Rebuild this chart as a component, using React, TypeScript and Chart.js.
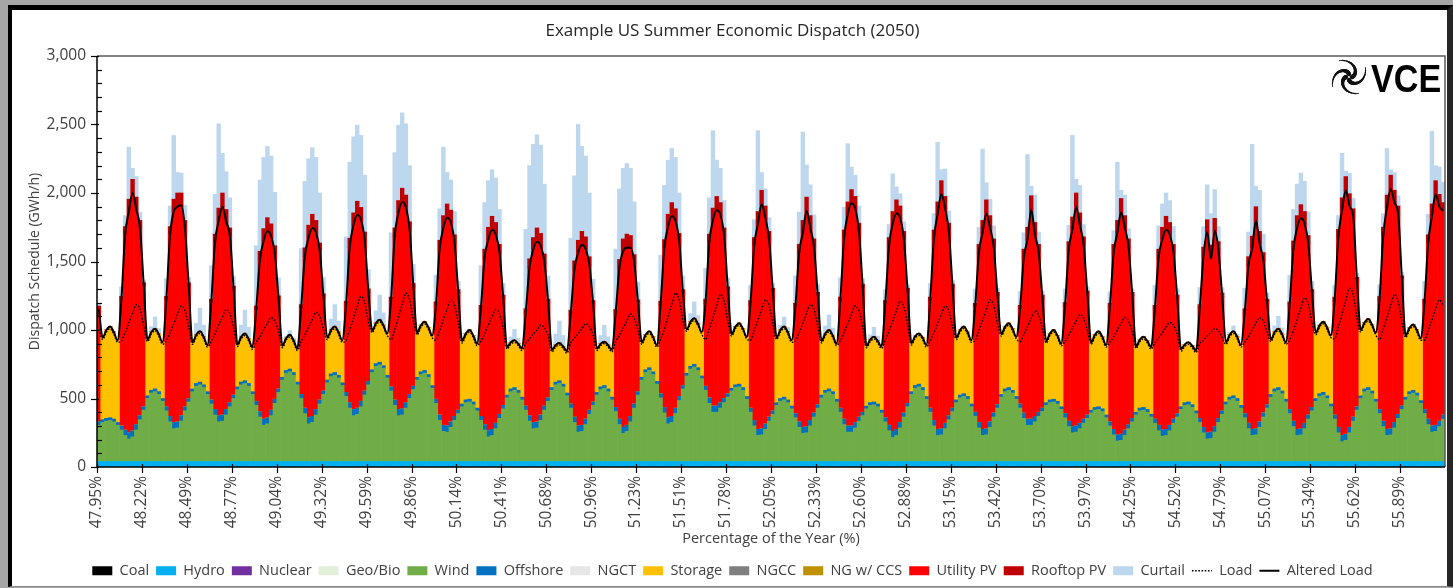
import React, { useEffect, useRef } from 'react';
import { Chart, registerables } from 'chart.js';

Chart.register(...registerables);

// x axis: one label per day (24 h = 0.274 % of the year), data in 2-hour bins
const dayLabels = [
  '47.95%', '48.22%', '48.49%', '48.77%', '49.04%', '49.32%', '49.59%', '49.86%', '50.14%', '50.41%',
  '50.68%', '50.96%', '51.23%', '51.51%', '51.78%', '52.05%', '52.33%', '52.60%', '52.88%', '53.15%',
  '53.42%', '53.70%', '53.97%', '54.25%', '54.52%', '54.79%', '55.07%', '55.34%', '55.62%', '55.89%',
];
const binsPerDay = 12;
const yMinorStep = 100;

const coal: number[] = [];
const nuclear: number[] = [];
const geoBio: number[] = [];
const ngct: number[] = [];
const ngcc: number[] = [];
const ngCcs: number[] = [];

const hydro = [
  40,40,40,40,40,40,40,40,40,40,40,40, 40,40,40,40,40,40,40,40,40,40,40,40,
  40,40,40,40,40,40,40,40,40,40,40,40, 40,40,40,40,40,40,40,40,40,40,40,40,
  40,40,40,40,40,40,40,40,40,40,40,40, 40,40,40,40,40,40,40,40,40,40,40,40,
  40,40,40,40,40,40,40,40,40,40,40,40, 40,40,40,40,40,40,40,40,40,40,40,40,
  40,40,40,40,40,40,40,40,40,40,40,40, 40,40,40,40,40,40,40,40,40,40,40,40,
  40,40,40,40,40,40,40,40,40,40,40,40, 40,40,40,40,40,40,40,40,40,40,40,40,
  40,40,40,40,40,40,40,40,40,40,40,40, 40,40,40,40,40,40,40,40,40,40,40,40,
  40,40,40,40,40,40,40,40,40,40,40,40, 40,40,40,40,40,40,40,40,40,40,40,40,
  40,40,40,40,40,40,40,40,40,40,40,40, 40,40,40,40,40,40,40,40,40,40,40,40,
  40,40,40,40,40,40,40,40,40,40,40,40, 40,40,40,40,40,40,40,40,40,40,40,40,
  40,40,40,40,40,40,40,40,40,40,40,40, 40,40,40,40,40,40,40,40,40,40,40,40,
  40,40,40,40,40,40,40,40,40,40,40,40, 40,40,40,40,40,40,40,40,40,40,40,40,
  40,40,40,40,40,40,40,40,40,40,40,40, 40,40,40,40,40,40,40,40,40,40,40,40,
  40,40,40,40,40,40,40,40,40,40,40,40, 40,40,40,40,40,40,40,40,40,40,40,40,
  40,40,40,40,40,40,40,40,40,40,40,40, 40,40,40,40,40,40,40,40,40,40,40,40,
];

const wind = [
  265,285,295,300,290,265,230,190,165,180,230,305,
  375,460,500,510,490,440,370,290,240,245,295,370,
  435,510,550,560,540,490,420,340,290,295,340,400,
  460,525,560,570,550,490,410,325,265,275,335,425,
  505,595,645,655,630,560,460,350,275,285,340,420,
  490,575,620,630,610,555,475,390,335,345,400,485,
  560,650,695,705,680,610,515,410,335,340,390,460,
  525,595,635,645,615,535,425,300,220,215,250,300,
  350,400,430,435,415,370,300,230,180,190,240,315,
  385,465,510,520,500,450,375,295,240,245,300,375,
  440,520,560,570,545,480,390,285,215,220,270,345,
  410,485,525,535,510,450,365,270,205,220,290,390,
  485,595,650,665,635,565,465,355,275,285,350,445,
  530,625,675,690,665,605,520,425,360,360,390,430,
  470,515,540,545,520,455,360,260,190,195,235,295,
  345,410,440,450,430,385,320,250,205,210,260,325,
  390,465,500,510,490,435,360,270,215,215,245,295,
  335,385,410,415,400,355,290,225,175,190,245,325,
  400,490,535,545,520,455,360,260,190,195,240,305,
  365,430,465,475,455,400,330,245,190,195,250,325,
  390,470,510,520,500,455,390,315,265,265,290,330,
  365,410,430,435,420,380,320,255,210,215,240,280,
  315,355,375,380,365,320,260,195,150,155,190,240,
  290,340,370,375,360,325,280,225,185,190,225,280,
  325,380,410,415,395,350,285,210,165,170,215,285,
  345,415,450,460,440,390,320,240,190,195,250,325,
  390,470,510,520,495,435,350,255,190,195,240,310,
  370,440,475,485,460,400,310,210,145,155,210,295,
  375,460,510,520,495,435,350,255,190,195,245,315,
  380,450,490,500,480,425,350,270,215,220,255,310,
];

const offshore = [
  25,20,20,20,20,20,30,40,45,45,40,30, 25,20,20,20,20,20,30,40,45,45,40,30,
  25,20,20,20,20,20,30,40,45,45,40,30, 25,20,20,20,20,20,30,40,45,45,40,30,
  25,20,20,20,20,20,30,40,45,45,40,30, 25,20,20,20,20,20,30,40,45,45,40,30,
  25,20,20,20,20,20,30,40,45,45,40,30, 25,20,20,20,20,20,30,40,45,45,40,30,
  25,20,20,20,20,20,30,40,45,45,40,30, 25,20,20,20,20,20,30,40,45,45,40,30,
  25,20,20,20,20,20,30,40,45,45,40,30, 25,20,20,20,20,20,30,40,45,45,40,30,
  25,20,20,20,20,20,30,40,45,45,40,30, 25,20,20,20,20,20,30,40,45,45,40,30,
  25,20,20,20,20,20,30,40,45,45,40,30, 25,20,20,20,20,20,30,40,45,45,40,30,
  25,20,20,20,20,20,30,40,45,45,40,30, 25,20,20,20,20,20,30,40,45,45,40,30,
  25,20,20,20,20,20,30,40,45,45,40,30, 25,20,20,20,20,20,30,40,45,45,40,30,
  25,20,20,20,20,20,30,40,45,45,40,30, 25,20,20,20,20,20,30,40,45,45,40,30,
  25,20,20,20,20,20,30,40,45,45,40,30, 25,20,20,20,20,20,30,40,45,45,40,30,
  25,20,20,20,20,20,30,40,45,45,40,30, 25,20,20,20,20,20,30,40,45,45,40,30,
  25,20,20,20,20,20,30,40,45,45,40,30, 25,20,20,20,20,20,30,40,45,45,40,30,
  25,20,20,20,20,20,30,40,45,45,40,30, 25,20,20,20,20,20,30,40,45,45,40,30,
];

const storage = [
  0,600,645,665,635,600,0,0,0,0,0,0,
  0,410,425,440,420,410,0,0,0,0,0,0,
  0,340,355,370,350,340,0,0,0,0,0,0,
  0,310,330,345,325,325,0,0,0,0,0,0,
  0,230,235,250,235,245,0,0,0,0,0,0,
  0,310,320,335,315,310,0,0,0,0,0,0,
  0,285,295,310,295,305,0,0,0,0,0,0,
  0,325,340,355,345,365,0,0,0,0,0,0,
  0,460,485,505,485,470,0,0,0,0,0,0,
  0,350,340,345,340,355,0,0,0,0,0,0,
  0,275,270,275,275,305,0,0,0,0,0,0,
  0,320,315,320,320,345,0,0,0,0,0,0,
  0,255,255,265,255,265,0,0,0,0,0,0,
  0,320,325,335,320,320,0,0,0,0,0,0,
  0,395,425,445,430,435,0,0,0,0,0,0,
  0,475,500,515,495,480,0,0,0,0,0,0,
  0,395,415,430,410,405,0,0,0,0,0,0,
  0,440,460,475,460,465,0,0,0,0,0,0,
  0,355,360,370,365,375,0,0,0,0,0,0,
  0,455,475,490,470,465,0,0,0,0,0,0,
  0,440,455,470,450,435,0,0,0,0,0,0,
  0,450,485,505,480,460,0,0,0,0,0,0,
  0,495,530,550,525,510,0,0,0,0,0,0,
  0,480,500,515,500,490,0,0,0,0,0,0,
  0,420,425,435,430,440,0,0,0,0,0,0,
  0,435,455,470,450,440,0,0,0,0,0,0,
  0,400,415,430,415,415,0,0,0,0,0,0,
  0,480,500,515,500,500,0,0,0,0,0,0,
  0,480,485,500,485,485,0,0,0,0,0,0,
  0,450,465,480,460,455,0,0,0,0,0,0,
];

const utilityPV = [
  820,0,0,0,0,0,915,1420,1615,1735,1570,1365,
  880,0,0,0,0,0,775,1320,1540,1570,1535,1300,
  820,0,0,0,0,0,705,1215,1425,1520,1370,1215,
  770,0,0,0,0,0,665,1105,1300,1360,1270,1060,
  655,0,0,0,0,0,625,1105,1315,1375,1290,1085,
  685,0,0,0,0,0,635,1135,1345,1410,1325,1100,
  650,0,0,0,0,0,625,1190,1435,1510,1425,1200,
  725,0,0,0,0,0,680,1210,1440,1520,1455,1265,
  855,0,0,0,0,0,780,1215,1395,1455,1375,1180,
  780,0,0,0,0,0,680,1080,1260,1315,1235,1050,
  695,0,0,0,0,0,655,1075,1265,1315,1240,1060,
  715,0,0,0,0,0,685,1100,1285,1295,1230,1030,
  645,0,0,0,0,0,645,1160,1395,1460,1365,1130,
  675,0,0,0,0,0,605,1130,1355,1430,1370,1185,
  755,0,0,0,0,0,755,1270,1500,1640,1500,1295,
  870,0,0,0,0,0,775,1230,1420,1575,1405,1210,
  795,0,0,0,0,0,780,1315,1545,1625,1560,1355,
  910,0,0,0,0,0,825,1305,1515,1575,1490,1265,
  815,0,0,0,0,0,780,1325,1570,1710,1565,1345,
  880,0,0,0,0,0,765,1235,1435,1570,1415,1210,
  795,0,0,0,0,0,690,1130,1310,1530,1325,1165,
  800,0,0,0,0,0,780,1245,1440,1600,1445,1270,
  880,0,0,0,0,0,835,1285,1475,1620,1475,1295,
  895,0,0,0,0,0,800,1220,1390,1455,1390,1215,
  840,0,0,0,0,0,800,1250,1465,1265,1430,1230,
  835,0,0,0,0,0,735,1150,1320,1520,1300,1110,
  745,0,0,0,0,0,755,1250,1470,1535,1455,1250,
  835,0,0,0,0,0,830,1380,1645,1780,1615,1460,
  920,0,0,0,0,0,795,1350,1620,1750,1605,1460,
  925,0,0,0,0,0,775,1280,1530,1685,1565,1490,
];

const rooftopPV = [
  25,0,0,0,0,0,30,65,90,100,90,60, 25,0,0,0,0,0,30,65,90,100,90,60,
  25,0,0,0,0,0,30,65,90,100,90,60, 25,0,0,0,0,0,30,65,90,100,90,60,
  25,0,0,0,0,0,30,65,90,100,90,60, 25,0,0,0,0,0,30,65,90,100,90,60,
  25,0,0,0,0,0,30,65,90,100,90,60, 25,0,0,0,0,0,30,65,90,100,90,60,
  25,0,0,0,0,0,30,65,90,100,90,60, 25,0,0,0,0,0,30,65,90,100,90,60,
  25,0,0,0,0,0,30,65,90,100,90,60, 25,0,0,0,0,0,30,65,90,100,90,60,
  25,0,0,0,0,0,30,65,90,100,90,60, 25,0,0,0,0,0,30,65,90,100,90,60,
  25,0,0,0,0,0,30,65,90,100,90,60, 25,0,0,0,0,0,30,65,90,100,90,60,
  25,0,0,0,0,0,30,65,90,100,90,60, 25,0,0,0,0,0,30,65,90,100,90,60,
  25,0,0,0,0,0,30,65,90,100,90,60, 25,0,0,0,0,0,30,65,90,100,90,60,
  25,0,0,0,0,0,30,65,90,100,90,60, 25,0,0,0,0,0,30,65,90,100,90,60,
  25,0,0,0,0,0,30,65,90,100,90,60, 25,0,0,0,0,0,30,65,90,100,90,60,
  25,0,0,0,0,0,30,65,90,100,90,60, 25,0,0,0,0,0,30,65,90,100,90,60,
  25,0,0,0,0,0,30,65,90,100,90,60, 25,0,0,0,0,0,30,65,90,100,90,60,
  25,0,0,0,0,0,30,65,90,100,90,60, 25,0,0,0,0,0,30,65,90,100,90,60,
];

const curtail = [
  15,0,0,0,0,0,70,80,380,80,150,60,
  20,0,40,85,40,0,130,150,465,150,145,110,
  40,0,85,170,85,0,245,290,615,290,275,220,
  70,0,85,170,85,0,440,520,520,520,495,390,
  130,0,15,30,15,0,410,485,485,485,460,365,
  120,0,80,160,80,0,470,555,555,555,525,415,
  140,0,90,180,90,0,470,550,550,550,520,410,
  140,0,0,0,0,0,195,230,500,230,220,170,
  60,0,0,0,0,0,290,340,340,340,325,255,
  85,0,40,80,40,0,580,680,680,680,645,510,
  170,0,80,160,80,0,525,620,845,620,590,465,
  155,0,60,120,60,0,440,515,515,515,490,385,
  130,0,0,0,0,0,335,395,395,395,375,295,
  100,0,60,120,60,0,225,265,565,265,250,200,
  65,0,0,0,0,0,110,130,590,130,125,100,
  35,0,35,70,35,0,200,235,645,235,225,175,
  60,0,55,110,55,0,140,165,425,165,155,125,
  40,0,35,70,35,0,80,95,275,95,90,70,
  25,0,0,0,0,0,100,120,435,80,200,90,
  30,0,0,0,0,0,105,125,520,125,120,95,
  30,0,0,0,0,0,100,120,530,70,200,90,
  30,0,0,0,0,0,100,120,595,100,200,90,
  30,0,0,0,0,0,85,100,425,60,150,75,
  25,0,0,0,0,0,145,170,170,170,160,130,
  45,0,0,0,0,0,125,150,255,230,210,110,
  40,0,20,40,20,0,150,180,670,150,300,135,
  45,0,45,90,45,0,195,230,230,230,220,170,
  60,0,0,0,0,0,85,100,325,40,150,75,
  25,0,0,0,0,0,85,100,340,40,130,75,
  25,0,0,0,0,0,130,150,530,110,200,150,
];

const load = [
  1005,930,985,1010,970,910,920,980,1050,1120,1185,1150,
  1025,915,970,995,955,895,920,980,1045,1115,1175,1140,
  1020,895,950,975,935,875,915,970,1035,1095,1150,1120,
  1010,880,935,960,920,860,910,950,1000,1050,1090,1065,
  985,870,925,950,910,850,915,965,1020,1075,1130,1100,
  1000,930,985,1010,970,910,925,1000,1085,1170,1245,1200,
  1055,980,1035,1060,1020,960,930,1005,1095,1185,1270,1220,
  1065,965,1020,1045,1005,945,925,995,1070,1150,1220,1180,
  1045,905,960,985,945,885,915,970,1035,1095,1150,1120,
  1010,860,895,910,885,850,905,935,970,1000,1035,1015,
  955,840,875,890,865,830,905,940,975,1010,1045,1025,
  960,850,885,900,875,840,915,960,1015,1065,1115,1085,
  995,895,950,975,935,875,930,1005,1095,1185,1270,1220,
  1065,990,1045,1070,1030,970,930,1005,1090,1180,1260,1210,
  1060,955,1010,1035,995,935,925,995,1070,1150,1220,1180,
  1045,930,985,1010,970,910,920,980,1050,1120,1185,1150,
  1025,905,960,985,945,885,920,980,1045,1115,1175,1140,
  1020,870,915,935,905,865,925,990,1065,1140,1210,1170,
  1040,890,940,960,930,875,920,980,1045,1115,1175,1140,
  1020,930,985,1010,970,910,925,995,1070,1150,1220,1180,
  1045,955,1010,1035,995,935,915,965,1025,1085,1140,1110,
  1005,905,960,985,945,885,915,960,1015,1065,1115,1085,
  995,895,950,975,935,875,910,950,1000,1050,1090,1065,
  985,865,915,935,905,860,905,940,980,1020,1055,1035,
  965,845,880,895,870,835,900,925,955,985,1010,995,
  945,895,950,975,935,875,910,950,1000,1050,1090,1065,
  985,915,970,995,955,895,925,995,1080,1160,1235,1190,
  1050,965,1020,1045,1005,945,935,1020,1115,1215,1305,1255,
  1085,985,1040,1065,1025,965,930,1005,1090,1180,1260,1210,
  1060,945,1000,1025,985,925,925,995,1070,1150,1220,1180,
];

const alteredLoad = [
  1150,945,1000,1025,985,925,1215,1690,1865,2000,1880,1740,
  1320,930,985,1010,970,910,1215,1690,1865,1900,1910,1740,
  1320,910,965,990,950,890,1195,1635,1800,1900,1790,1685,
  1295,895,950,975,935,875,1145,1510,1650,1720,1685,1555,
  1225,885,940,965,925,865,1155,1535,1675,1745,1710,1575,
  1240,945,1000,1025,985,925,1180,1605,1765,1840,1805,1655,
  1275,995,1050,1075,1035,975,1210,1680,1855,1935,1895,1730,
  1315,980,1035,1060,1020,960,1175,1590,1745,1820,1785,1635,
  1270,920,975,1000,960,900,1150,1525,1660,1730,1695,1565,
  1230,875,910,925,900,865,1125,1455,1585,1645,1615,1495,
  1200,855,890,905,880,845,1115,1440,1565,1620,1590,1475,
  1190,865,900,915,890,855,1120,1450,1575,1600,1600,1490,
  1195,910,965,990,950,890,1180,1595,1755,1830,1795,1645,
  1270,1005,1060,1085,1045,985,1195,1635,1800,1875,1840,1685,
  1290,970,1025,1050,1010,950,1185,1610,1775,1920,1815,1660,
  1280,945,1000,1025,985,925,1165,1560,1710,1870,1745,1605,
  1250,920,975,1000,960,900,1210,1665,1845,1925,1885,1720,
  1310,885,930,950,920,880,1185,1610,1775,1850,1815,1660,
  1280,905,955,975,945,890,1210,1665,1845,1990,1885,1720,
  1310,945,1000,1025,985,925,1165,1560,1710,1850,1745,1605,
  1250,970,1025,1050,1010,950,1150,1525,1660,1880,1695,1565,
  1230,920,975,1000,960,900,1170,1580,1735,1900,1765,1620,
  1260,910,965,990,950,890,1165,1560,1710,1860,1745,1605,
  1250,880,930,950,920,875,1150,1525,1660,1730,1695,1565,
  1230,860,895,910,885,850,1155,1540,1715,1520,1725,1585,
  1245,910,965,990,950,890,1125,1470,1595,1800,1630,1505,
  1200,930,985,1010,970,910,1175,1585,1745,1815,1775,1630,
  1270,980,1035,1060,1020,960,1210,1670,1875,2020,1905,1825,
  1360,1000,1055,1080,1040,980,1215,1685,1895,2030,1930,1845,
  1370,960,1015,1040,1000,940,1195,1630,1830,1990,1900,1870,
];

const decoPlugin = {
  id: 'deco',
  afterDraw(chart: any) {
    const { ctx, chartArea: ca, scales } = chart;
    const x = scales.x;
    const y = scales.y;
    ctx.save();
    // plot frame (top & right)
    ctx.strokeStyle = '#595959';
    ctx.lineWidth = 1.5;
    ctx.beginPath();
    ctx.moveTo(ca.left, ca.top);
    ctx.lineTo(ca.right, ca.top);
    ctx.lineTo(ca.right, ca.bottom);
    ctx.stroke();
    // axes
    ctx.strokeStyle = '#000';
    ctx.lineWidth = 1.5;
    ctx.beginPath();
    ctx.moveTo(ca.left, ca.top);
    ctx.lineTo(ca.left, ca.bottom);
    ctx.lineTo(ca.right, ca.bottom);
    ctx.stroke();
    // y ticks (major every 500 outward, minor every 100 inward)
    ctx.lineWidth = 1.2;
    for (let v = 0; v <= y.max; v += yMinorStep) {
      const py = Math.round(y.getPixelForValue(v)) + 0.5;
      ctx.beginPath();
      if (v % 500 === 0) {
        ctx.moveTo(ca.left - 6, py);
        ctx.lineTo(ca.left + 2, py);
      } else {
        ctx.moveTo(ca.left, py);
        ctx.lineTo(ca.left + 5, py);
      }
      ctx.stroke();
    }
    // x ticks at day boundaries
    const half = (x.getPixelForValue(1) - x.getPixelForValue(0)) / 2;
    for (let d = 0; d < dayLabels.length; d++) {
      const px = Math.round(x.getPixelForValue(d * binsPerDay) - half) + 0.5;
      ctx.beginPath();
      ctx.moveTo(px, ca.bottom - 3);
      ctx.lineTo(px, ca.bottom + 6);
      ctx.stroke();
    }
    // VCE logo
    const cx = ca.right - 96;
    const cy = ca.top + 21;
    ctx.strokeStyle = '#111';
    ctx.lineCap = 'round';
    for (let k = 0; k < 4; k++) {
      const a0 = (k * Math.PI) / 2;
      const steps = 16;
      for (let s = 0; s < steps; s++) {
        const t0 = s / steps;
        const t1 = (s + 1) / steps;
        const r0 = 3 + 16 * t0;
        const r1 = 3 + 16 * t1;
        const th0 = a0 - 2.1 * t0;
        const th1 = a0 - 2.1 * t1;
        ctx.lineWidth = 3.8 * (1 - t0) + 0.6;
        ctx.beginPath();
        ctx.moveTo(cx + r0 * Math.cos(th0), cy + r0 * Math.sin(th0));
        ctx.lineTo(cx + r1 * Math.cos(th1), cy + r1 * Math.sin(th1));
        ctx.stroke();
      }
    }
    ctx.fillStyle = '#000';
    ctx.font = 'bold 39px "Liberation Sans", Arial, sans-serif';
    ctx.textBaseline = 'alphabetic';
    ctx.textAlign = 'left';
    ctx.translate(ca.right - 74, ca.top + 36);
    ctx.scale(0.875, 1);
    ctx.fillText('VCE', 0, 0);
    ctx.restore();
  },
};

export default function App() {
  const ref = useRef<HTMLCanvasElement>(null);

  useEffect(() => {
    if (!ref.current) return;
    Chart.defaults.font.family = '"Open Sans", sans-serif';
    const labels = dayLabels.flatMap((l) => [l, ...new Array(binsPerDay - 1).fill('')]);
    const bar = (label: string, data: number[], color: string) => ({
      type: 'bar' as const,
      label,
      data,
      backgroundColor: color,
      borderWidth: 0,
      barPercentage: 1,
      categoryPercentage: 1,
      stack: 'dispatch',
    });
    const chart = new Chart(ref.current, {
      type: 'bar',
      data: {
        labels,
        datasets: [
          bar('Coal', coal, '#000000'),
          bar('Hydro', hydro, '#00b0f0'),
          bar('Nuclear', nuclear, '#7030a0'),
          bar('Geo/Bio', geoBio, '#e2efda'),
          bar('Wind', wind, '#70ad47'),
          bar('Offshore', offshore, '#0070c0'),
          bar('NGCT', ngct, '#e7e6e6'),
          bar('Storage', storage, '#ffc000'),
          bar('NGCC', ngcc, '#7f7f7f'),
          bar('NG w/ CCS', ngCcs, '#bf9000'),
          bar('Utility PV', utilityPV, '#ff0000'),
          bar('Rooftop PV', rooftopPV, '#c00000'),
          bar('Curtail', curtail, '#bdd7ee'),
          {
            type: 'line' as const,
            label: 'Load',
            data: load,
            borderColor: '#000',
            backgroundColor: '#000',
            borderWidth: 1.4,
            borderDash: [1.6, 1.6],
            pointRadius: 0,
            fill: false,
            cubicInterpolationMode: 'monotone',
            order: -1,
            stack: 'load',
          } as any,
          {
            type: 'line' as const,
            label: 'Altered Load',
            data: alteredLoad,
            borderColor: '#000',
            backgroundColor: '#000',
            borderWidth: 2,
            pointRadius: 0,
            fill: false,
            cubicInterpolationMode: 'monotone',
            order: -2,
            stack: 'altered',
          } as any,
        ],
      },
      options: {
        responsive: false,
        animation: false,
        events: [],
        layout: { padding: { left: 20, right: 8, top: 0, bottom: 0 } },
        plugins: {
          title: {
            display: true,
            text: 'Example US Summer Economic Dispatch (2050)',
            color: '#262626',
            font: { size: 17, weight: 'normal' },
            padding: { top: 21, bottom: 14.6 },
          },
          legend: {
            position: 'bottom',
            labels: {
              usePointStyle: true,
              pointStyleWidth: 20,
              boxHeight: 9,
              padding: 7,
              color: '#404040',
              font: { size: 14.5 },
              sort: (a: any, b: any) => a.datasetIndex - b.datasetIndex,
              generateLabels: (ch: any) => {
                const items = (Chart.defaults.plugins.legend.labels as any).generateLabels(ch);
                return items.map((it: any) => {
                  const ds: any = ch.data.datasets[it.datasetIndex];
                  if (ds.type === 'line') {
                    return {
                      ...it,
                      pointStyle: 'line',
                      lineWidth: ds.borderWidth,
                      lineDash: ds.borderDash || [],
                      strokeStyle: '#000',
                      fillStyle: '#000',
                    };
                  }
                  return { ...it, pointStyle: 'rect', lineWidth: 0, fillStyle: ds.backgroundColor };
                });
              },
            },
          },
          tooltip: { enabled: false },
        },
        scales: {
          x: {
            type: 'category',
            stacked: true,
            offset: true,
            grid: { display: false, drawTicks: false },
            border: { display: false },
            ticks: {
              autoSkip: false,
              minRotation: 90,
              maxRotation: 90,
              padding: 9,
              labelOffset: -2,
              color: '#404040',
              font: { size: 15.5 },
            },
            title: {
              display: true,
              text: 'Percentage of the Year (%)',
              color: '#404040',
              font: { size: 14.5 },
              padding: { top: 0, bottom: 9 },
            },
            afterFit: (s: any) => {
              s.height = 89.5;
              s.paddingLeft = 0;
              s.paddingRight = 0;
            },
          },
          y: {
            stacked: true,
            min: 0,
            max: 3000,
            grid: { display: false, drawTicks: false },
            border: { display: false },
            ticks: {
              stepSize: 500,
              padding: 11,
              color: '#404040',
              font: { size: 15.5 },
              callback: (v: any) => Number(v).toLocaleString('en-US'),
            },
            title: {
              display: true,
              text: 'Dispatch Schedule (GWh/h)',
              color: '#404040',
              font: { size: 14 },
              padding: { top: 6.6, bottom: 0 },
            },
            afterFit: (s: any) => {
              s.width = 77;
            },
          },
        },
      } as any,
      plugins: [decoPlugin],
    });
    return () => chart.destroy();
  }, []);

  return (
    <div style={{ position: 'fixed', left: 0, top: 0, width: 1453, height: 588, background: '#a6a6a6', overflow: 'hidden' }}>
      <div
        style={{
          position: 'absolute',
          left: 8,
          top: 5,
          right: 0,
          bottom: 1,
          background: '#ffffff',
          borderLeft: '4px solid #000',
          borderTop: '5px solid #000',
          borderRight: '6px solid #262626',
          borderBottom: '1px solid #8a8a8a',
          boxSizing: 'border-box',
        }}
      />
      <canvas ref={ref} width={1453} height={588} style={{ position: 'absolute', left: 0, top: 0, width: 1453, height: 588 }} />
    </div>
  );
}
